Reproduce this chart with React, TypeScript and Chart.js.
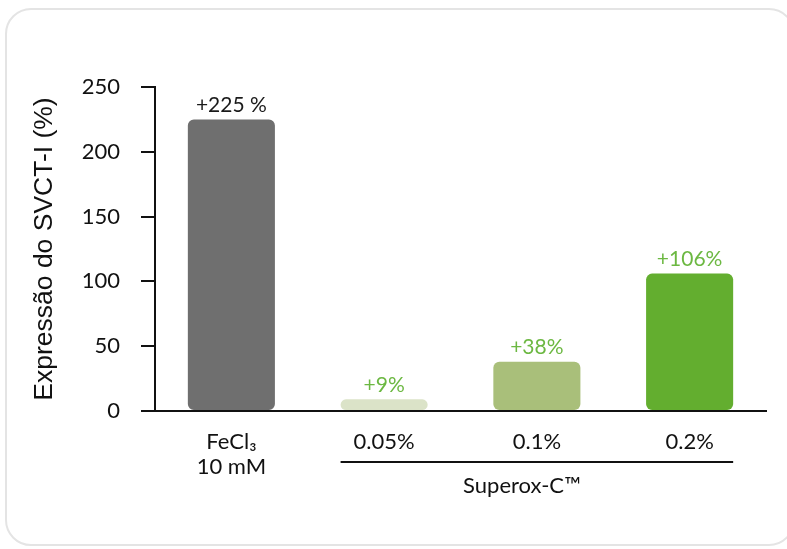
import React, { useEffect, useRef } from "react";
import { Chart, registerables } from "chart.js";

Chart.register(...registerables);

const categories = ["FeCl₃|10 mM", "0.05%", "0.1%", "0.2%"];
const values = [225, 9, 38, 106];
const valueLabels = ["+225 %", "+9%", "+38%", "+106%"];
const barColors = ["#6f6f6f", "#dbe3c8", "#a9bf7a", "#63ae2f"];
const labelColors = ["#1a1a1a", "#6cb842", "#6cb842", "#6cb842"];
const groupLabel = "Superox-C™";
const yTicks = [0, 50, 100, 150, 200, 250];
const yTitle = "Expressão do SVCT-I (%)";

const FONT = "Lato, 'Open Sans', sans-serif";
const TITLE_FONT = "'Liberation Sans', Arial, sans-serif";

export default function App() {
  const ref = useRef<HTMLCanvasElement | null>(null);

  useEffect(() => {
    document.body.style.margin = "0";
    const canvas = ref.current!;
    const extras = {
      id: "extras",
      afterDatasetsDraw(chart: any) {
        const ctx = chart.ctx;
        const meta = chart.getDatasetMeta(0);
        ctx.save();
        ctx.font = `21px ${FONT}`;
        ctx.textAlign = "center";
        ctx.textBaseline = "bottom";
        meta.data.forEach((bar: any, i: number) => {
          ctx.fillStyle = labelColors[i];
          ctx.fillText(valueLabels[i], bar.x, bar.y - 4);
        });
        const b1 = meta.data[1];
        const b3 = meta.data[3];
        const x0 = b1.x - b1.width / 2;
        const x1 = b3.x + b3.width / 2;
        const yLine = chart.chartArea.bottom + 51;
        ctx.strokeStyle = "#111";
        ctx.lineWidth = 2;
        ctx.beginPath();
        ctx.moveTo(x0, yLine);
        ctx.lineTo(x1, yLine);
        ctx.stroke();
        ctx.fillStyle = "#111";
        ctx.textBaseline = "middle";
        ctx.font = `22px ${FONT}`;
        ctx.fillText(groupLabel, (x0 + x1) / 2 - 15, yLine + 24);
        ctx.restore();
      },
    };
    const chart = new Chart(canvas, {
      type: "bar",
      data: {
        labels: categories.map((c) => c.split("|")),
        datasets: [
          {
            data: values,
            backgroundColor: barColors,
            borderRadius: 6,
            borderSkipped: false,
            categoryPercentage: 1,
            barPercentage: 0.57,
          },
        ],
      },
      options: {
        animation: false,
        responsive: false,
        maintainAspectRatio: false,
        layout: { padding: { left: 0, right: 21, top: 87, bottom: 0 } },
        plugins: {
          legend: { display: false },
          tooltip: { enabled: false },
        },
        scales: {
          x: {
            grid: { display: false, drawTicks: false },
            border: { color: "#111", width: 2 },
            afterFit(scale: any) {
              scale.height = 138;
            },
            ticks: {
              color: "#111",
              font: { family: FONT, size: 22, lineHeight: 1.15 },
              padding: 18,
              maxRotation: 0,
            },
          },
          y: {
            min: 0,
            max: 250,
            afterBuildTicks(scale: any) {
              scale.ticks = yTicks.map((v) => ({ value: v }));
            },
            afterFit(scale: any) {
              scale.width = 155;
            },
            grid: {
              drawOnChartArea: false,
              drawTicks: true,
              tickLength: 14,
              color: "#111",
              lineWidth: 2,
            },
            border: { color: "#111", width: 2 },
            ticks: {
              color: "#111",
              font: { family: FONT, size: 22 },
              padding: 21,
            },
            title: {
              display: true,
              text: yTitle,
              color: "#111",
              font: { family: TITLE_FONT, size: 26.5 },
              padding: { top: 29, bottom: 0 },
            },
          },
        },
      },
      plugins: [extras],
    } as any);
    return () => chart.destroy();
  }, []);

  return (
    <div style={{ position: "fixed", left: 0, top: 0, width: 787, height: 549, background: "#fff", overflow: "hidden" }}>
      <div
        style={{
          position: "absolute",
          left: 5,
          top: 8,
          width: 790,
          height: 538,
          border: "2px solid #e4e4e4",
          borderRadius: 26,
          boxSizing: "border-box",
        }}
      />
      <canvas
        ref={ref}
        width={787}
        height={549}
        style={{ position: "absolute", left: 0, top: 0, width: 787, height: 549 }}
      />
    </div>
  );
}
